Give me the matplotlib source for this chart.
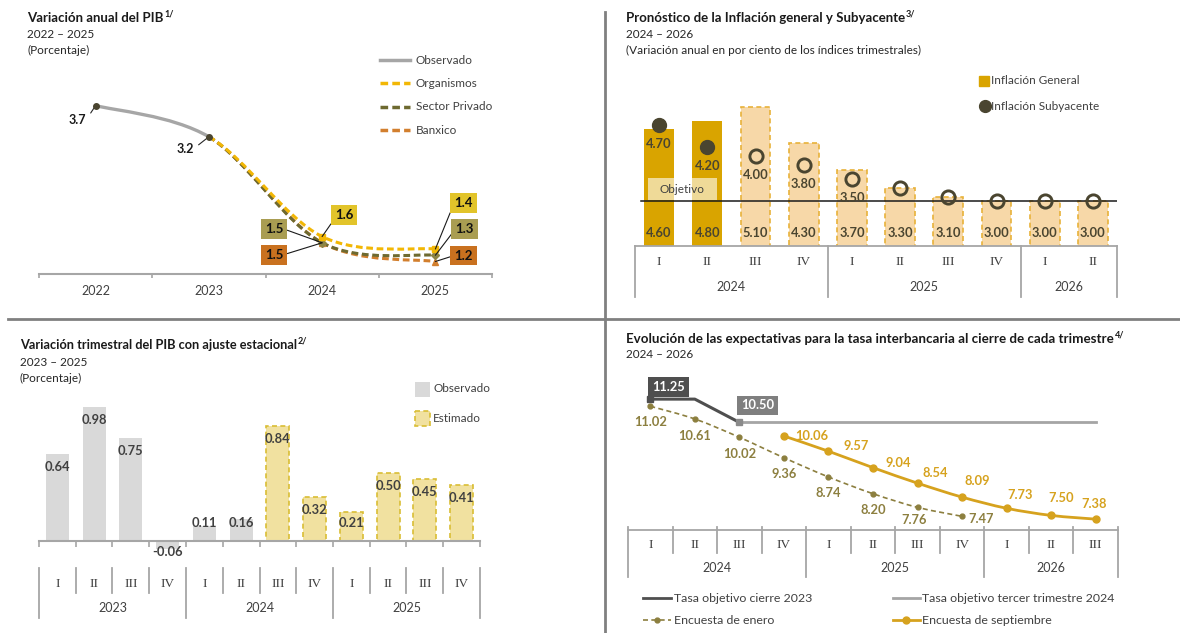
import matplotlib
matplotlib.use("Agg")
import matplotlib.pyplot as plt
from matplotlib.path import Path
from matplotlib.patches import PathPatch, Rectangle

# ---------------- data ----------------
pib_years = ["2022", "2023", "2024", "2025"]
pib_observado = [3.7, 3.2]
pib_organismos = [1.6, 1.4]
pib_privado = [1.5, 1.3]
pib_banxico = [1.5, 1.2]

infl_quarters = ["I", "II", "III", "IV", "I", "II", "III", "IV", "I", "II"]
infl_years = ["2024", "2025", "2026"]
infl_year_counts = [4, 4, 2]
infl_general = [4.60, 4.80, 5.10, 4.30, 3.70, 3.30, 3.10, 3.00, 3.00, 3.00]
infl_subyacente = [4.70, 4.20, 4.00, 3.80, 3.50, 3.30, 3.10, 3.00, 3.00, 3.00]
infl_n_observed = 2
infl_n_labeled = 5
infl_objetivo = 3.0

pibq_quarters = ["I", "II", "III", "IV", "I", "II", "III", "IV", "I", "II", "III", "IV"]
pibq_years = ["2023", "2024", "2025"]
pibq_year_counts = [4, 4, 4]
pibq_values = [0.64, 0.98, 0.75, -0.06, 0.11, 0.16, 0.84, 0.32, 0.21, 0.50, 0.45, 0.41]
pibq_n_observed = 6

tasa_quarters = ["I", "II", "III", "IV", "I", "II", "III", "IV", "I", "II", "III"]
tasa_years = ["2024", "2025", "2026"]
tasa_year_counts = [4, 4, 3]
tasa_cierre_2023 = [11.25, 11.25, 10.50]          # 2024 I - III
tasa_tercer_2024 = [10.50, 10.50, 10.50, 10.50, 10.50, 10.50, 10.50, 10.50, 10.50]  # 2024 III - 2026 III
tasa_tercer_start = 2
encuesta_enero = [11.02, 10.61, 10.02, 9.36, 8.74, 8.20, 7.76, 7.47]       # 2024 I - 2025 IV
encuesta_septiembre = [10.06, 9.57, 9.04, 8.54, 8.09, 7.73, 7.50, 7.38]   # 2024 IV - 2026 III
septiembre_start = 3

# ---------------- setup ----------------
W, H = 1180, 633
plt.rcParams['font.family'] = ['Lato', 'DejaVu Sans']
TXT = '#404040'
GRID = '#A6A6A6'
LEG = 8.5

fig = plt.figure(figsize=(W / 100, H / 100), dpi=100)
base = fig.add_axes([0, 0, 1, 1])
base.set_xlim(0, W)
base.set_ylim(H, 0)
base.axis('off')


def px_axes(x0, y0, x1, y1):
    ax = fig.add_axes([x0 / W, 1 - y1 / H, (x1 - x0) / W, (y1 - y0) / H])
    ax.px = (x0, y0, x1, y1)
    for s in ax.spines.values():
        s.set_visible(False)
    ax.set_xticks([])
    ax.set_yticks([])
    ax.patch.set_alpha(0)
    return ax


def yf(ax, ypx):
    x0, y0, x1, y1 = ax.px
    return (y1 - ypx) / (y1 - y0)


def smooth_path(xs, ys, seg_from=0, seg_to=None, k=1 / 6):
    pts = list(zip(xs, ys))
    n = len(pts)
    if seg_to is None:
        seg_to = n - 1
    verts = [pts[seg_from]]
    codes = [Path.MOVETO]
    for i in range(seg_from, seg_to):
        p0 = pts[max(i - 1, 0)]
        p1 = pts[i]
        p2 = pts[i + 1]
        p3 = pts[min(i + 2, n - 1)]
        c1 = (p1[0] + (p2[0] - p0[0]) * k, p1[1] + (p2[1] - p0[1]) * k)
        c2 = (p2[0] - (p3[0] - p1[0]) * k, p2[1] - (p3[1] - p1[1]) * k)
        verts += [c1, c2, p2]
        codes += [Path.CURVE4] * 3
    return Path(verts, codes)


def title(x, y, text, sup, size=9.5):
    t = base.text(x, y, text, fontsize=size, fontweight='bold', color='#1a1a1a', va='center')
    bb = t.get_window_extent(fig.canvas.get_renderer())
    base.text(bb.x1 + 1, y - 4, sup, fontsize=6.5, fontweight='bold', color='#1a1a1a', va='center')


def cat_table(ax, quarters, years, counts, q_y, yr_y, top_y, grp_bot, sep_bot=None):
    tr = ax.get_xaxis_transform()
    for i, q in enumerate(quarters):
        ax.text(i, yf(ax, q_y), q, transform=tr, ha='center', va='center', fontsize=9.5,
                family='Liberation Serif', color=TXT, clip_on=False)
    bounds = [-0.5]
    s = 0
    for yr, c in zip(years, counts):
        ax.text(s + (c - 1) / 2, yf(ax, yr_y), yr, transform=tr, ha='center', va='center',
                fontsize=9, color=TXT, clip_on=False)
        s += c
        bounds.append(s - 0.5)
    for b in bounds:
        ax.plot([b, b], [yf(ax, top_y), yf(ax, grp_bot)], transform=tr, color=GRID, lw=1.3, clip_on=False)
    if sep_bot is not None:
        for i in range(len(quarters) - 1):
            b = i + 0.5
            if b not in bounds:
                ax.plot([b, b], [yf(ax, top_y), yf(ax, sep_bot)], transform=tr, color=GRID, lw=1.3,
                        clip_on=False)


# dividers
base.plot([605, 605], [12, H], color='#808080', lw=2)
base.plot([8, W], [319, 319], color='#808080', lw=2)

# ---------------- panel 1: PIB anual ----------------
title(27, 18, "Variación anual del PIB", "1/")
base.text(27, 34, "2022 – 2025", fontsize=8.5, color='#262626', va='center')
base.text(27, 50, "(Porcentaje)", fontsize=8.5, color='#262626', va='center')

ax1 = px_axes(39, 60, 492, 274)
ax1.set_xlim(-0.5, 3.5)
ax1.set_ylim(1.0, 4.43)
ax1.spines['bottom'].set_visible(True)
ax1.spines['bottom'].set_color(GRID)
ax1.spines['bottom'].set_linewidth(1.5)
ax1.set_xticks(range(len(pib_years)))
ax1.set_xticklabels(pib_years, fontsize=9, color=TXT)
ax1.set_xticks([i - 0.5 for i in range(len(pib_years) + 1)], minor=True)
ax1.tick_params(axis='x', which='major', length=0, pad=8)
ax1.tick_params(axis='x', which='minor', length=3, color=GRID, width=1.2)

C_OBS = '#A6A6A6'
C_ORG = '#F2B705'
C_PRIV = '#6E6A30'
C_BAN = '#D27F2E'
dash = (0, (2.2, 1.2))
xs = list(range(len(pib_years)))
ax1.add_patch(PathPatch(smooth_path(xs[:3], pib_observado + pib_organismos[:1], 0, 1),
                        fill=False, edgecolor=C_OBS, lw=2.4, zorder=2))
for vals, col, z in [(pib_banxico, C_BAN, 3), (pib_privado, C_PRIV, 4), (pib_organismos, C_ORG, 5)]:
    ax1.add_patch(PathPatch(smooth_path(xs, pib_observado + vals, 1), fill=False, edgecolor=col,
                            lw=2.2, linestyle=dash, capstyle='butt', zorder=z))
ax1.plot(xs[:2], pib_observado, 'o', ms=4, color='#4A4530', zorder=6)
ax1.plot(xs[2:], pib_banxico, '^', ms=5, color=C_BAN, zorder=6)
ax1.plot(xs[2:], pib_privado, 'D', ms=4.5, color='#8C8445', zorder=7)
ax1.plot(xs[2:], pib_organismos, 's', ms=4.5, color=C_ORG, zorder=8)

for i, v, off in [(0, pib_observado[0], (-18, -14)), (1, pib_observado[1], (-24, -12))]:
    ax1.annotate(f"{v:.1f}", xy=(i, v), xytext=off, textcoords='offset pixels', ha='center',
                 va='center', fontsize=9, fontweight='bold', color='#1a1a1a',
                 arrowprops=dict(arrowstyle='-', color='#262626', lw=0.8, shrinkA=2, shrinkB=0,
                                 relpos=(1, 0.5)))

box_specs = [
    (2, pib_organismos[0], (22, 22), '#E2C42A', (0, 0.2)),
    (2, pib_privado[0], (-48, 14), '#A99D52', (1, 0.5)),
    (2, pib_banxico[0], (-48, -12), '#C9711F', (1, 0.5)),
    (3, pib_organismos[1], (28, 46), '#E2C42A', (0, 0.5)),
    (3, pib_privado[1], (29, 26), '#A99D52', (0, 0.5)),
    (3, pib_banxico[1], (28, 6), '#C9711F', (0, 0.5)),
]
for i, v, off, fc, rp in box_specs:
    ax1.annotate(f"{v:.1f}", xy=(i, v), xytext=off, textcoords='offset pixels', ha='center',
                 va='center', fontsize=9.5, fontweight='bold', color='#111111', zorder=10,
                 bbox=dict(boxstyle='square,pad=0.3', fc=fc, ec='none'),
                 arrowprops=dict(arrowstyle='-', color='#1a1a1a', lw=0.8, shrinkA=0, shrinkB=0,
                                 relpos=rp))

leg1 = [("Observado", C_OBS, '-'), ("Organismos", C_ORG, dash),
        ("Sector Privado", C_PRIV, dash), ("Banxico", C_BAN, dash)]
for k, (lab, col, ls) in enumerate(leg1):
    y = 60 + 23.4 * k
    base.plot([380, 410], [y, y], color=col, lw=2.5, ls=ls)
    base.text(416, y, lab, fontsize=LEG, color=TXT, va='center')

# ---------------- panel 2: inflación ----------------
title(626, 18, "Pronóstico de la Inflación general y Subyacente", "3/")
base.text(626, 34, "2024 – 2026", fontsize=8.5, color='#262626', va='center')
base.text(626, 50, "(Variación anual en por ciento de los índices trimestrales)", fontsize=8.5,
          color='#262626', va='center')

ax2 = px_axes(635, 60, 1117, 246)
ax2.set_xlim(-0.5, len(infl_general) - 0.5)
ax2.set_ylim(2.0, 6.15)
ax2.spines['bottom'].set_visible(True)
ax2.spines['bottom'].set_color(GRID)
ax2.spines['bottom'].set_linewidth(1.3)
G_SOLID = '#D9A400'
n = infl_n_observed
ax2.bar(range(n), infl_general[:n], width=0.62, color=G_SOLID, zorder=2)
ax2.bar(range(n, len(infl_general)), infl_general[n:], width=0.62, color='#F7D8A8',
        edgecolor='#E8B23A', linestyle=(0, (3, 2)), lw=1.2, zorder=2)
ax2.axhline(infl_objetivo, xmin=0.012, xmax=1, color='#1a1a1a', lw=1.1, zorder=3)
ax2.plot(range(n), infl_subyacente[:n], 'o', ms=10, color='#4A4530', zorder=5)
ax2.plot(range(n, len(infl_subyacente)), infl_subyacente[n:], 'o', ms=9.5, mfc='none',
         mec='#4A4530', mew=2.1, zorder=5)
for i, v in enumerate(infl_general):
    ax2.annotate(f"{v:.2f}", xy=(i, 2.0), xytext=(0, 13), textcoords='offset pixels', ha='center',
                 va='center', fontsize=9.3, fontweight='bold', color='#4A4530', zorder=6)
for i, v in enumerate(infl_subyacente[:infl_n_labeled]):
    ax2.annotate(f"{v:.2f}", xy=(i, v), xytext=(0, -19), textcoords='offset pixels', ha='center',
                 va='center', fontsize=9.3, fontweight='bold', color='#4A4530', zorder=6)
cat_table(ax2, infl_quarters, infl_years, infl_year_counts, q_y=262, yr_y=287, top_y=246, grp_bot=297)

over = fig.add_axes([0, 0, 1, 1], zorder=10)
over.set_xlim(0, W)
over.set_ylim(H, 0)
over.axis('off')
over.add_patch(Rectangle((648, 178), 69, 22, fc='white', ec='none', alpha=0.6))
over.text(682, 189.5, "Objetivo", fontsize=8.5, color=TXT, ha='center', va='center')

base.plot([984], [81], 's', ms=7, color=G_SOLID)
base.text(991, 81, "Inflación General", fontsize=LEG, color=TXT, va='center')
base.plot([985], [106], 'o', ms=8.5, color='#4A4530')
base.text(991, 106, "Inflación Subyacente", fontsize=LEG, color=TXT, va='center')

# ---------------- panel 3: PIB trimestral ----------------
title(20, 345, "Variación trimestral del PIB con ajuste estacional", "2/", size=9.2)
base.text(20, 362, "2023 – 2025", fontsize=8.5, color='#262626', va='center')
base.text(20, 378, "(Porcentaje)", fontsize=8.5, color='#262626', va='center')

ax3 = px_axes(39, 380, 480, 560)
ax3.set_xlim(-0.5, len(pibq_values) - 0.5)
ax3.set_ylim(-0.139, 1.178)
ax3.spines['bottom'].set_visible(True)
ax3.spines['bottom'].set_position(('data', 0))
ax3.spines['bottom'].set_color(GRID)
ax3.spines['bottom'].set_linewidth(1.5)
ax3.set_xticks([i - 0.5 for i in range(len(pibq_values) + 1)])
ax3.set_xticklabels([])
ax3.tick_params(axis='x', length=4, color=GRID, width=1.2)
m = pibq_n_observed
ax3.bar(range(m), pibq_values[:m], width=0.62, color='#D9D9D9', zorder=2)
ax3.bar(range(m, len(pibq_values)), pibq_values[m:], width=0.62, color='#F1E1A0',
        edgecolor='#D9BE35', linestyle=(0, (3, 2)), lw=1.2, zorder=2)
ppu = 180 / (1.178 + 0.139)
for i, v in enumerate(pibq_values):
    if v < 0:
        xy, off = (i, v), (0, -3)
    elif v * ppu - 13 < 18:
        xy, off = (i, 0), (0, 18)
    else:
        xy, off = (i, v), (0, -13)
    ax3.annotate(f"{v:.2f}", xy=xy, xytext=off, textcoords='offset pixels', ha='center', va='center',
                 fontsize=9.3, fontweight='bold', color=TXT, zorder=5)
cat_table(ax3, pibq_quarters, pibq_years, pibq_year_counts, q_y=584, yr_y=608, top_y=568,
          grp_bot=618, sep_bot=593)

base.add_patch(Rectangle((415, 382), 15, 15, fc='#D9D9D9', ec='none'))
base.text(433, 389, "Observado", fontsize=LEG, color=TXT, va='center')
base.add_patch(Rectangle((415, 411), 15, 15, fc='#F1E1A0', ec='#D9BE35', ls=(0, (3, 2)), lw=1.2))
base.text(433, 418, "Estimado", fontsize=LEG, color=TXT, va='center')

# ---------------- panel 4: tasa interbancaria ----------------
title(626, 339, "Evolución de las expectativas para la tasa interbancaria al cierre de cada trimestre", "4/",
      size=9.6)
base.text(626, 355, "2024 – 2026", fontsize=8.5, color='#262626', va='center')

ax4 = px_axes(628, 365, 1118, 530)
ax4.set_xlim(-0.5, len(tasa_quarters) - 0.5)
ax4.set_ylim(7.03, 12.35)
ax4.spines['bottom'].set_visible(True)
ax4.spines['bottom'].set_color(GRID)
ax4.spines['bottom'].set_linewidth(1.3)
C_DARK = '#4F4F4F'
C_LIGHT = '#A5A5A5'
C_ENE = '#8C7F3F'
C_SEP = '#D6A21E'
x_ter = list(range(tasa_tercer_start, tasa_tercer_start + len(tasa_tercer_2024)))
ax4.plot(x_ter, tasa_tercer_2024, color=C_LIGHT, lw=2, zorder=2)
ax4.plot(range(len(tasa_cierre_2023)), tasa_cierre_2023, color=C_DARK, lw=2.2, zorder=3)
ax4.plot([0], tasa_cierre_2023[:1], 's', ms=5, color=C_DARK, zorder=4)
ax4.plot([x_ter[0]], tasa_tercer_2024[:1], 's', ms=5, color='#8A8A8A', zorder=4)
x_ene = list(range(len(encuesta_enero)))
ax4.add_patch(PathPatch(smooth_path(x_ene, encuesta_enero), fill=False, edgecolor=C_ENE, lw=1.2,
                        linestyle=(0, (3, 2)), zorder=3))
ax4.plot(x_ene, encuesta_enero, 'o', ms=3.5, color=C_ENE, zorder=4)
x_sep = list(range(septiembre_start, septiembre_start + len(encuesta_septiembre)))
ax4.add_patch(PathPatch(smooth_path(x_sep, encuesta_septiembre), fill=False, edgecolor=C_SEP, lw=2,
                        zorder=3))
ax4.plot(x_sep, encuesta_septiembre, 'o', ms=5, color=C_SEP, zorder=4)

ax4.annotate(f"{tasa_cierre_2023[0]:.2f}", xy=(0, tasa_cierre_2023[0]), xytext=(18, 12),
             textcoords='offset pixels', ha='center', va='center', fontsize=9.3, fontweight='bold',
             color='white', bbox=dict(boxstyle='square,pad=0.3', fc=C_DARK, ec='none'), zorder=6)
ax4.annotate(f"{tasa_tercer_2024[0]:.2f}", xy=(x_ter[0], tasa_tercer_2024[0]), xytext=(18, 17),
             textcoords='offset pixels', ha='center', va='center', fontsize=9.3, fontweight='bold',
             color='white', bbox=dict(boxstyle='square,pad=0.3', fc='#7F7F7F', ec='none'), zorder=6)
ene_offsets = [(0, -16), (0, -17), (0, -17), (0, -16), (0, -16), (0, -16), (-3, -13), (19, -3)]
for x, v, off in zip(x_ene, encuesta_enero, ene_offsets):
    ax4.annotate(f"{v:.2f}", xy=(x, v), xytext=off, textcoords='offset pixels', ha='center',
                 va='center', fontsize=9.3, fontweight='bold', color=C_ENE, zorder=6)
sep_offsets = [(28, 0), (28, 5), (25, 5), (18, 10), (15, 16), (13, 13), (10, 17), (-2, 15)]
for x, v, off in zip(x_sep, encuesta_septiembre, sep_offsets):
    ax4.annotate(f"{v:.2f}", xy=(x, v), xytext=off, textcoords='offset pixels', ha='center',
                 va='center', fontsize=9.3, fontweight='bold', color=C_SEP, zorder=6)
cat_table(ax4, tasa_quarters, tasa_years, tasa_year_counts, q_y=545, yr_y=568, top_y=527,
          grp_bot=577, sep_bot=553)

base.plot([643, 671], [598, 598], color=C_DARK, lw=2)
base.text(674, 598, "Tasa objetivo cierre 2023", fontsize=8.9, color=TXT, va='center')
base.plot([893, 920], [598, 598], color=C_LIGHT, lw=2)
base.text(922, 598, "Tasa objetivo tercer trimestre 2024", fontsize=8.9, color=TXT, va='center')
base.plot([643, 671], [620, 620], color=C_ENE, lw=1.2, ls=(0, (3, 2)))
base.plot([657], [620], 'o', ms=3.5, color=C_ENE)
base.text(674, 620, "Encuesta de enero", fontsize=8.9, color=TXT, va='center')
base.plot([893, 920], [620, 620], color=C_SEP, lw=2)
base.plot([906], [620], 'o', ms=5, color=C_SEP)
base.text(922, 620, "Encuesta de septiembre", fontsize=8.9, color=TXT, va='center')

fig.savefig("out.png", dpi=100)
